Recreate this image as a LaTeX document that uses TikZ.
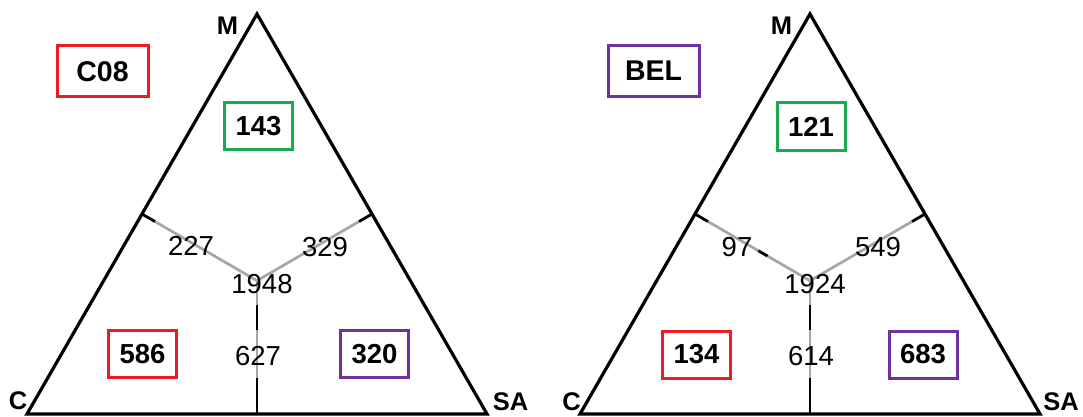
\documentclass[tikz,border=0pt]{standalone}
\usepackage{fontspec}
\setmainfont{Liberation Sans}
\usetikzlibrary{calc}
\definecolor{bred}{RGB}{236,28,36}
\definecolor{bgreen}{RGB}{28,170,80}
\definecolor{bpurple}{RGB}{112,48,160}
\tikzset{
  tri/.style={line width=3.2pt, line join=miter},
  inner/.style={line width=2.7pt, black!35},
  innerdark/.style={line width=2.7pt, black},
  cbox/.style={draw, line width=3pt, inner sep=0pt, minimum width=68pt, minimum height=47pt, font=\fontsize{27.5}{27.5}\selectfont\bfseries},
  tbox/.style={draw, line width=3pt, inner sep=0pt, minimum width=91pt, minimum height=51pt, font=\fontsize{28.5}{28.5}\selectfont\bfseries},
  num/.style={inner sep=0pt, font=\fontsize{27.5}{27.5}\selectfont},
  vlab/.style={inner sep=0pt, font=\fontsize{25.5}{25.5}\selectfont\bfseries}
}
\begin{document}
\begin{tikzpicture}[x=1pt,y=-1pt]
\useasboundingbox (0,0) rectangle (1083,417);
% ---------- left triangle ----------
\coordinate (LA) at (257,14);
\coordinate (LB) at (27,414);
\coordinate (LD) at (487,414);
\coordinate (LmL) at ($(LA)!0.5!(LB)$);
\coordinate (LmR) at ($(LA)!0.5!(LD)$);
\coordinate (LmB) at ($(LB)!0.5!(LD)$);
\coordinate (LO) at (257,280.7);
\draw[inner] (LmL) -- (LO);
\draw[inner] (LmR) -- (LO);
\draw[inner] (LmB) -- (LO);
\draw[innerdark] (LmL) -- ($(LmL)!15pt!(LO)$);
\draw[innerdark] (LmR) -- ($(LmR)!15pt!(LO)$);
\draw[innerdark] (LmB) -- ($(LmB)!36pt!(LO)$);
\draw[innerdark] ($(LmB)!84pt!(LO)$) -- ($(LmB)!109pt!(LO)$);
\draw[tri] (LA) -- (LB) -- (LD) -- cycle;
\node[vlab] (LMl) at (227.5,25.5) {M};
\node[vlab] (LCl) at (18,401) {C};
\node[vlab] (LSAl) at (510.5,402) {SA};
\node[tbox, draw=bred] (Ltitle) at (102.5,71.5) {C08\hspace{4pt}};
\node[cbox, draw=bgreen] (LM) at (258.5,126) {143};
\node[cbox, draw=bred] (LC) at (142.5,354) {586};
\node[cbox, draw=bpurple] (LSA) at (374.5,354) {320};
\node[num] (Lcm) at (191,246) {227};
\node[num] (Lms) at (325,247) {329};
\node[num] (Lall) at (262,284) {1948};
\node[num] (Lcs) at (258,356) {627};
% ---------- right triangle ----------
\coordinate (RA) at (810,14);
\coordinate (RB) at (580,414);
\coordinate (RD) at (1040,414);
\coordinate (RmL) at ($(RA)!0.5!(RB)$);
\coordinate (RmR) at ($(RA)!0.5!(RD)$);
\coordinate (RmB) at ($(RB)!0.5!(RD)$);
\coordinate (RO) at (810,280.7);
\draw[inner] (RmL) -- (RO);
\draw[inner] (RmR) -- (RO);
\draw[inner] (RmB) -- (RO);
\draw[innerdark] (RmL) -- ($(RmL)!15pt!(RO)$);
\draw[innerdark] ($(RmL)!0.55!(RO)$) -- ($(RmL)!0.63!(RO)$);
\draw[innerdark] (RmR) -- ($(RmR)!15pt!(RO)$);
\draw[innerdark] (RmB) -- ($(RmB)!36pt!(RO)$);
\draw[innerdark] ($(RmB)!84pt!(RO)$) -- ($(RmB)!109pt!(RO)$);
\draw[tri] (RA) -- (RB) -- (RD) -- cycle;
\node[vlab] (RMl) at (781.5,25.5) {M};
\node[vlab] (RCl) at (571.5,402) {C};
\node[vlab] (RSAl) at (1061,402) {SA};
\node[tbox, draw=bpurple] (Rtitle) at (653.5,71) {BEL};
\node[cbox, draw=bgreen] (RM) at (811,126.5) {121};
\node[cbox, draw=bred] (RC) at (696.5,354.5) {134};
\node[cbox, draw=bpurple] (RSA) at (923,354.5) {683};
\node[num] (Rcm) at (737,247) {97};
\node[num] (Rms) at (878,247) {549};
\node[num] (Rall) at (815,284) {1924};
\node[num] (Rcs) at (811,356) {614};
\end{tikzpicture}
\end{document}
